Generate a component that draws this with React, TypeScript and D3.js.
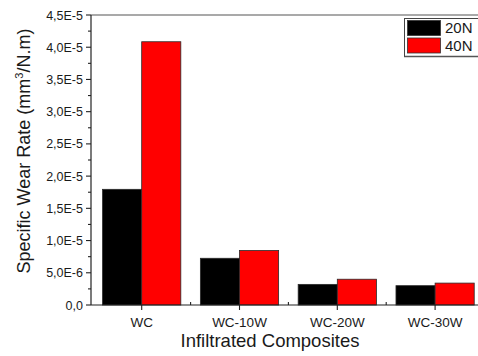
import React, { useEffect, useRef } from "react";
import * as d3 from "d3";

const categories = ["WC", "WC-10W", "WC-20W", "WC-30W"];
const seriesNames = ["20N", "40N"];
const seriesColours = ["#000000", "#ff0000"];
const load20N = [1.795e-5, 7.25e-6, 3.2e-6, 3.0e-6];
const load40N = [4.085e-5, 8.45e-6, 4.0e-6, 3.4e-6];
const yTicks = [0, 5e-6, 1e-5, 1.5e-5, 2e-5, 2.5e-5, 3e-5, 3.5e-5, 4e-5, 4.5e-5];

const WIDTH = 478;
const HEIGHT = 356;
const LEFT = 91;
const TOP = 15;
const BOTTOM = 305;
const FONT = "'Liberation Sans', Arial, sans-serif";
const TEXT_COLOUR = "#1a1a1a";

// 4,5E-5 style labels
const fmtTick = (v: number) => {
  if (v === 0) return "0,0";
  const s = d3.format(".1e")(v); // 4.5e-5
  return s.replace(".", ",").replace("e", "E");
};

const App = () => {
  const svgRef = useRef<SVGSVGElement | null>(null);

  useEffect(() => {
    const svg = d3.select(svgRef.current);
    svg.selectAll("*").remove();

    const x0 = d3.scaleBand<string>()
      .domain(categories)
      .range([92.8, 484])
      .paddingInner(0.2)
      .paddingOuter(0.1);
    const x1 = d3.scaleBand<string>()
      .domain(seriesNames)
      .range([0, x0.bandwidth()]);
    const y = d3.scaleLinear().domain([0, 4.5e-5]).range([BOTTOM, TOP]);

    const series = [load20N, load40N];

    // bars
    categories.forEach((c, i) => {
      seriesNames.forEach((s, j) => {
        const v = series[j][i];
        svg.append("rect")
          .attr("x", (x0(c) as number) + (x1(s) as number))
          .attr("y", y(v))
          .attr("width", x1.bandwidth())
          .attr("height", BOTTOM - y(v))
          .attr("fill", seriesColours[j])
          .attr("stroke", "#2a2a2a")
          .attr("stroke-width", 0.8);
      });
    });

    // top frame line (plot is cropped on the right)
    svg.append("line")
      .attr("x1", LEFT).attr("x2", WIDTH)
      .attr("y1", TOP).attr("y2", TOP)
      .style("stroke", "#555")
      .style("stroke-width", 1.2);

    // y axis
    svg.append("line")
      .attr("x1", LEFT).attr("x2", LEFT)
      .attr("y1", TOP).attr("y2", BOTTOM)
      .style("stroke", "#222")
      .style("stroke-width", 1.2);

    yTicks.forEach((t, i) => {
      svg.append("line")
        .attr("x1", LEFT - 5).attr("x2", LEFT)
        .attr("y1", y(t)).attr("y2", y(t))
        .style("stroke", "#222").style("stroke-width", 1.1);
      svg.append("text")
        .attr("x", LEFT - 8)
        .attr("y", y(t) + 4.5)
        .attr("text-anchor", "end")
        .attr("style", `font-family: ${FONT}; font-size: 12.5px; fill: ${TEXT_COLOUR}`)
        .text(fmtTick(t));
      if (i < yTicks.length - 1) {
        const m = (t + yTicks[i + 1]) / 2;
        svg.append("line")
          .attr("x1", LEFT - 3).attr("x2", LEFT)
          .attr("y1", y(m)).attr("y2", y(m))
          .style("stroke", "#222").style("stroke-width", 1.1);
      }
    });

    // x axis
    svg.append("line")
      .attr("x1", LEFT).attr("x2", WIDTH)
      .attr("y1", BOTTOM).attr("y2", BOTTOM)
      .style("stroke", "#222")
      .style("stroke-width", 1.2);

    const step = x0.step();
    categories.forEach((c, i) => {
      const cx = (x0(c) as number) + x0.bandwidth() / 2;
      svg.append("line")
        .attr("x1", cx).attr("x2", cx)
        .attr("y1", BOTTOM).attr("y2", BOTTOM + 5)
        .style("stroke", "#222").style("stroke-width", 1.1);
      svg.append("text")
        .attr("x", cx)
        .attr("y", 327)
        .attr("text-anchor", "middle")
        .attr("style", `font-family: ${FONT}; font-size: 13.5px; fill: ${TEXT_COLOUR}`)
        .text(c);
      if (i > 0) {
        const bx = cx - step / 2;
        svg.append("line")
          .attr("x1", bx).attr("x2", bx)
          .attr("y1", BOTTOM - 3).attr("y2", BOTTOM)
          .style("stroke", "#222").style("stroke-width", 1.1);
      }
    });

    // axis titles
    svg.append("text")
      .attr("x", 270)
      .attr("y", 347)
      .attr("text-anchor", "middle")
      .attr("style", `font-family: ${FONT}; font-size: 18.5px; fill: ${TEXT_COLOUR}`)
      .text("Infiltrated Composites");

    const yTitle = svg.append("text")
      .attr("transform", "translate(30,151) rotate(-90)")
      .attr("text-anchor", "middle")
      .attr("style", `font-family: ${FONT}; font-size: 18px; fill: ${TEXT_COLOUR}`);
    yTitle.append("tspan").text("Specific Wear Rate (mm");
    yTitle.append("tspan").attr("dy", -7).attr("style", "font-size: 11px").text("3");
    yTitle.append("tspan").attr("dy", 7).text("/N.m)");

    // legend
    const lg = svg.append("g");
    lg.append("line").attr("x1", 404).attr("x2", WIDTH).attr("y1", 18.5).attr("y2", 18.5)
      .style("stroke", "#444").style("stroke-width", 1);
    lg.append("line").attr("x1", 404).attr("x2", WIDTH).attr("y1", 56.5).attr("y2", 56.5)
      .style("stroke", "#555").style("stroke-width", 1.5);
    lg.append("line").attr("x1", 404.5).attr("x2", 404.5).attr("y1", 18.5).attr("y2", 56.5)
      .style("stroke", "#444").style("stroke-width", 1);
    seriesNames.forEach((s, j) => {
      const ry = 20.5 + j * 17.5;
      lg.append("rect")
        .attr("x", 407.5).attr("y", ry)
        .attr("width", 33).attr("height", 15)
        .attr("fill", seriesColours[j])
        .attr("stroke", "#333").attr("stroke-width", 0.8);
      lg.append("text")
        .attr("x", 445)
        .attr("y", ry + 12.5)
        .attr("style", `font-family: ${FONT}; font-size: 15px; fill: ${TEXT_COLOUR}`)
        .text(s);
    });
  }, []);

  return (
    <svg
      ref={svgRef}
      width={WIDTH}
      height={HEIGHT}
      style={{ position: "absolute", left: 0, top: 0, background: "#fff" }}
    />
  );
};

export default App;
